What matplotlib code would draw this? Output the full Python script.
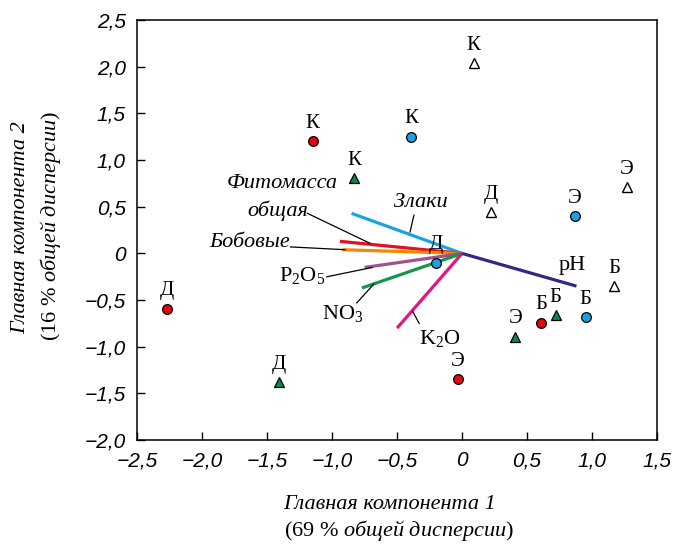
import matplotlib
matplotlib.use('Agg')
import matplotlib.pyplot as plt

plt.rcParams['mathtext.fontset'] = 'custom'
plt.rcParams['mathtext.rm'] = 'Liberation Serif'
plt.rcParams['mathtext.it'] = 'Liberation Serif:italic'

# точки (ГК1, ГК2) и подписи
red_x = [-1.15, -2.27, -0.03, 0.61]
red_y = [1.20, -0.59, -1.35, -0.74]
red_lab = ['К', 'Д', 'Э', 'Б']

blue_x = [-0.39, 0.87, 0.95, -0.20]
blue_y = [1.25, 0.40, -0.68, -0.10]
blue_lab = ['К', 'Э', 'Б', 'Д']

green_x = [-0.83, -1.41, 0.41, 0.72]
green_y = [0.81, -1.38, -0.89, -0.66]
green_lab = ['К', 'Д', 'Э', 'Б']

open_x = [0.09, 0.22, 1.27, 1.17]
open_y = [2.04, 0.44, 0.71, -0.35]
open_lab = ['К', 'Д', 'Э', 'Б']

# векторы нагрузок
vec_names = ['Злаки', 'Фитомасса', 'Бобовые', 'P2O5', 'NO3', 'K2O', 'pH']
vec_x = [-0.85, -0.94, -0.92, -0.75, -0.77, -0.50, 0.88]
vec_y = [0.43, 0.13, 0.04, -0.15, -0.37, -0.80, -0.35]
vec_col = ['#1aa3e0', '#e3101e', '#f08a00', '#a3508f', '#15964a', '#e5157f', '#2e2a85']

ticks_x = [-2.5, -2.0, -1.5, -1.0, -0.5, 0, 0.5, 1.0, 1.5]
ticks_y = [-2.0, -1.5, -1.0, -0.5, 0, 0.5, 1.0, 1.5, 2.0, 2.5]


def fmt(v):
    if v == 0:
        return '0'
    s = '%.1f' % abs(v)
    s = s.replace('.', ',')
    return ('\u2212' + s) if v < 0 else s


fig = plt.figure(figsize=(6.76, 5.44), dpi=100)
ax = fig.add_axes([0.2027, 0.191, 0.7693, 0.772])

for i in range(len(vec_names)):
    ax.plot([0, vec_x[i]], [0, vec_y[i]], color=vec_col[i], lw=2.3,
            solid_capstyle='butt', zorder=2)

ax.plot(red_x, red_y, 'o', ms=7, mfc='#e30613', mec='k', mew=0.9, zorder=3)
ax.plot(blue_x, blue_y, 'o', ms=7, mfc='#1ea0dc', mec='k', mew=0.9, zorder=3)
ax.plot(green_x, green_y, '^', ms=7, mfc='#12854a', mec='k', mew=0.9, zorder=3)
ax.plot(open_x, open_y, '^', ms=7, mfc='white', mec='k', mew=1.0, zorder=3)

lab_font = dict(family='Liberation Serif', fontsize=15, ha='center', va='bottom')
for xs, ys, ls in [(red_x, red_y, red_lab), (blue_x, blue_y, blue_lab),
                   (green_x, green_y, green_lab), (open_x, open_y, open_lab)]:
    for x, y, l in zip(xs, ys, ls):
        ax.annotate(l, (x, y), xytext=(0, 6), textcoords='offset points', **lab_font)

# подписи векторов с выносками
it = dict(family='Liberation Serif', style='italic', fontsize=16)
rm = dict(family='Liberation Serif', fontsize=16)
ax.text(-1.38, 0.75, 'Фитомасса', ha='center', va='center', **it)
ax.text(-1.42, 0.46, 'общая', ha='center', va='center', **it)
ax.plot([-1.19, -0.71], [0.43, 0.11], color='k', lw=0.9)
ax.text(-1.32, 0.12, 'Бобовые', ha='right', va='center', **it)
ax.plot([-1.32, -0.90], [0.07, 0.04], color='k', lw=0.9)
ax.text(-0.32, 0.55, 'Злаки', ha='center', va='center', **it)
ax.plot([-0.37, -0.40], [0.41, 0.23], color='k', lw=0.9)
ax.text(-1.23, -0.24, r'$\mathrm{P_2O_5}$', ha='center', va='center', **rm)
ax.plot([-1.04, -0.69], [-0.25, -0.15], color='k', lw=0.9)
ax.text(-0.92, -0.64, r'$\mathrm{NO_3}$', ha='center', va='center', **rm)
ax.plot([-0.81, -0.68], [-0.53, -0.33], color='k', lw=0.9)
ax.text(-0.17, -0.91, r'$\mathrm{K_2O}$', ha='center', va='center', **rm)
ax.plot([-0.33, -0.38], [-0.75, -0.62], color='k', lw=0.9)
ax.text(0.85, -0.13, 'pH', ha='center', va='center', **rm)

ax.set_xlim(-2.5, 1.5)
ax.set_ylim(-2.0, 2.5)
ax.set_xticks(ticks_x)
ax.set_xticklabels([fmt(v) for v in ticks_x])
ax.set_yticks(ticks_y)
ax.set_yticklabels([fmt(v) for v in ticks_y])
ax.tick_params(direction='in', length=6, width=1, pad=8)
for lab in ax.get_xticklabels() + ax.get_yticklabels():
    lab.set_family('Liberation Sans')
    lab.set_style('italic')
    lab.set_fontsize(15)
for s in ax.spines.values():
    s.set_linewidth(1.1)

fig.text(0.577, 0.072, 'Главная компонента 1', ha='center', va='center', **it)
fig.text(0.59, 0.024, r'(69 % $\mathit{общей\ дисперсии}$)', ha='center',
         va='center', **rm)
fig.text(0.031, 0.581, 'Главная компонента 2', ha='center', va='center',
         rotation=90, **it)
fig.text(0.074, 0.585, r'(16 % $\mathit{общей\ дисперсии}$)', ha='center',
         va='center', rotation=90, **rm)

fig.savefig('out.png', dpi=100)
